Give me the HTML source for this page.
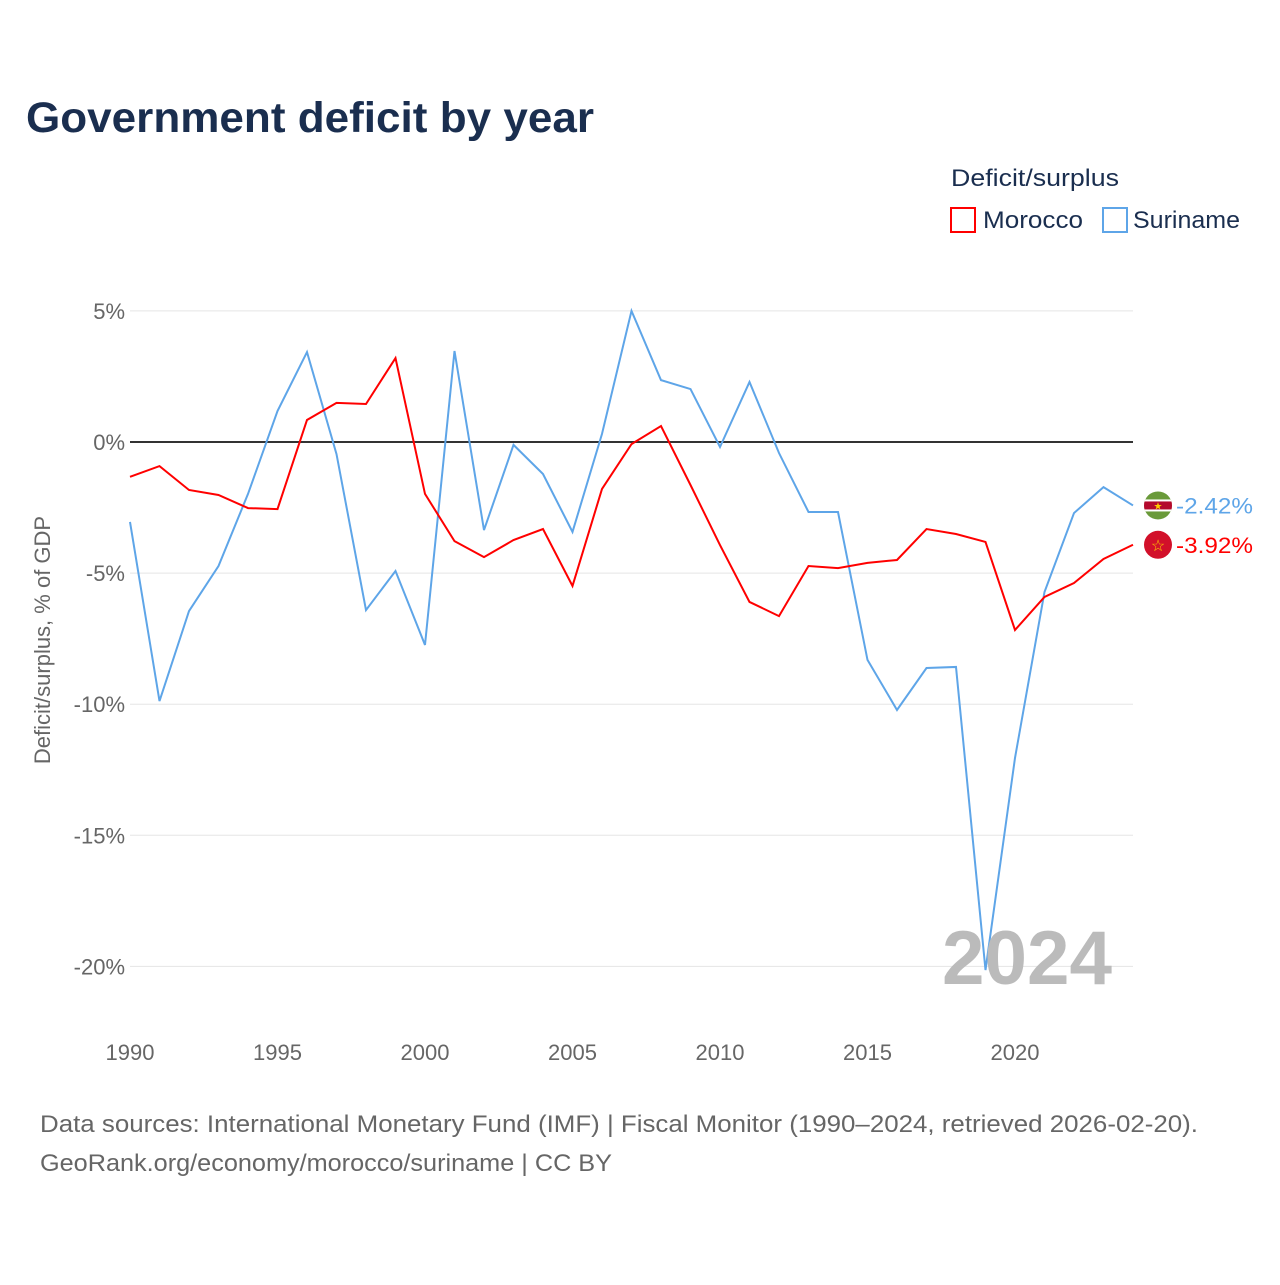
<!DOCTYPE html>
<html><head><meta charset="utf-8">
<style>
body{margin:0;background:#fff;font-family:"Liberation Sans",sans-serif;}
svg text{font-family:"Liberation Sans",sans-serif;}
</style></head>
<body>
<svg width="1280" height="1280" xmlns="http://www.w3.org/2000/svg">
<rect width="1280" height="1280" fill="#fff"/>
<text x="26" y="132" font-size="43" font-weight="bold" fill="#1a2e4f" textLength="568" lengthAdjust="spacingAndGlyphs">Government deficit by year</text>
<text x="951" y="186" font-size="24" fill="#1a2e4f" textLength="168" lengthAdjust="spacingAndGlyphs">Deficit/surplus</text>
<g><rect x="951" y="208" width="24" height="24" fill="none" stroke="#f00" stroke-width="2"/><text x="983" y="228" font-size="24" fill="#1a2e4f" textLength="100" lengthAdjust="spacingAndGlyphs">Morocco</text></g>
<g><rect x="1103" y="208" width="24" height="24" fill="none" stroke="#5ea5e8" stroke-width="2"/><text x="1133" y="228" font-size="24" fill="#1a2e4f" textLength="107" lengthAdjust="spacingAndGlyphs">Suriname</text></g>
<text transform="translate(50,640) rotate(-90)" text-anchor="middle" font-size="22" fill="#666">Deficit/surplus, % of GDP</text>
<g id="grid"></g><g id="series"></g>
<text x="942" y="984" font-size="76" font-weight="bold" fill="#bbb" textLength="170" lengthAdjust="spacingAndGlyphs">2024</text>
<text x="40" y="1132" font-size="24" fill="#666" textLength="1158" lengthAdjust="spacingAndGlyphs">Data sources: International Monetary Fund (IMF) | Fiscal Monitor (1990–2024, retrieved 2026-02-20).</text>
<text x="40" y="1171" font-size="24" fill="#666" textLength="572" lengthAdjust="spacingAndGlyphs">GeoRank.org/economy/morocco/suriname | CC BY</text>
</svg>
<script>
const years=[];for(let y=1990;y<=2024;y++)years.push(y);
const morocco=[-1.33,-0.92,-1.83,-2.02,-2.52,-2.56,0.84,1.49,1.45,3.2,-1.98,-3.78,-4.39,-3.74,-3.32,-5.49,-1.79,-0.08,0.61,-1.64,-3.93,-6.1,-6.64,-4.73,-4.81,-4.61,-4.5,-3.32,-3.51,-3.81,-7.17,-5.91,-5.38,-4.46,-3.92];
const suriname=[-3.05,-9.88,-6.45,-4.73,-1.98,1.18,3.43,-0.46,-6.41,-4.92,-7.74,3.47,-3.36,-0.11,-1.22,-3.43,0.31,5.0,2.36,2.02,-0.19,2.29,-0.42,-2.67,-2.67,-8.31,-10.22,-8.62,-8.58,-20.14,-12.05,-5.72,-2.71,-1.72,-2.42];
const yTicks=[5,0,-5,-10,-15,-20];
const xTicks=[1990,1995,2000,2005,2010,2015,2020];
const NS="http://www.w3.org/2000/svg";
const X=y=>130+(y-1990)*29.5, Y=v=>442-v*26.22;
function mk(t,a,p){const e=document.createElementNS(NS,t);for(const k in a)e.setAttribute(k,a[k]);p.appendChild(e);return e;}
const g=document.getElementById('grid'),s=document.getElementById('series');
yTicks.forEach(v=>{
 const l=mk('line',{x1:130,x2:1133,y1:Y(v),y2:Y(v),stroke:v===0?'#333':'#e5e5e5','stroke-width':v===0?2:1},g);
 
 
 const t=mk('text',{x:125,y:Y(v)+8,'text-anchor':'end','font-size':22,fill:'#666'},g);t.textContent=v+'%';
 
 
});
xTicks.forEach(y=>{
 const t=mk('text',{x:X(y),y:1060,'text-anchor':'middle','font-size':22,fill:'#666'},g);t.textContent=y;
 
 
});
function line(d,c,n){
 const p=mk('path',{d:d.map((v,i)=>(i?'L':'M')+X(years[i])+','+Y(v)).join(''),fill:'none',stroke:c,'stroke-width':2},s);
 
 
}
line(suriname,'#5ea5e8','suriname-line');
line(morocco,'#f00','morocco-line');
const last=years.length-1,cx=1158;
const sy=Y(suriname[last]),my=Y(morocco[last]);
const sf=mk('g',{},s);


const cp=mk('clipPath',{id:'cs'},sf);
mk('circle',{cx:cx,cy:sy,r:14},cp);
const fg=mk('g',{'clip-path':'url(#cs)'},sf);
mk('rect',{x:cx-14,y:sy-14,width:28,height:28,fill:'#6a9a3a'},fg);
mk('rect',{x:cx-14,y:sy-6,width:28,height:12,fill:'#fff'},fg);
mk('rect',{x:cx-14,y:sy-4,width:28,height:8,fill:'#b40a2d'},fg);
mk('text',{x:cx,y:sy+4,'text-anchor':'middle','font-size':10,fill:'#fc0'},fg).textContent='★';
const mf=mk('g',{},s);


mk('circle',{cx:cx,cy:my,r:14,fill:'#d2102a'},mf);
mk('text',{x:cx,y:my+6,'text-anchor':'middle','font-size':16,fill:'#fc0'},mf).textContent='☆';
const ls=mk('text',{x:1176,y:sy+8,'font-size':22,fill:'#5ea5e8',textLength:77,lengthAdjust:'spacingAndGlyphs'},s);ls.textContent=suriname[last].toFixed(2)+'%';


const lm=mk('text',{x:1176,y:my+8,'font-size':22,fill:'#f00',textLength:77,lengthAdjust:'spacingAndGlyphs'},s);lm.textContent=morocco[last].toFixed(2)+'%';


</script>
</body></html>
